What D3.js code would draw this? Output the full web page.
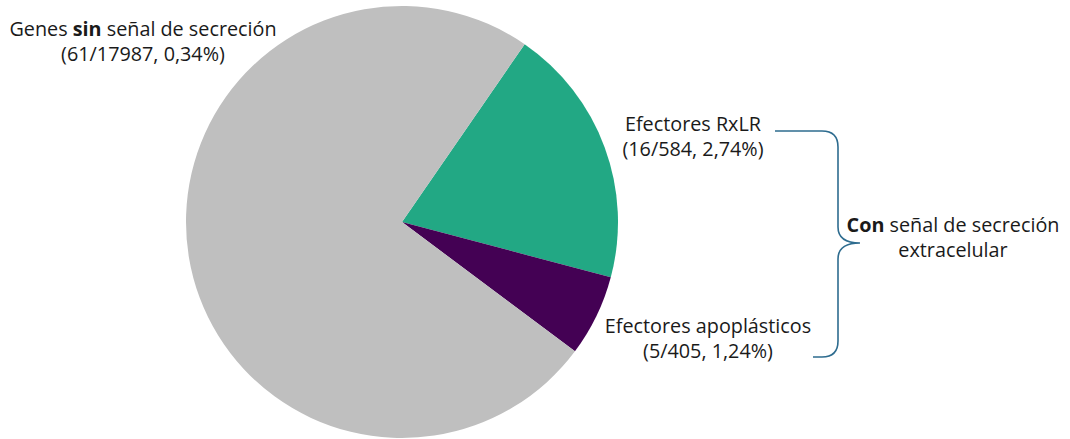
<!DOCTYPE html>
<html>
<head>
<meta charset="utf-8">
<script src="https://cdn.jsdelivr.net/npm/d3@7"></script>
<style>
  html, body { margin: 0; padding: 0; background: #fff; }
  svg { display: block; }
  text { font-family: "Open Sans", "Noto Sans", sans-serif; fill: #1a1a1a; }
</style>
</head>
<body>
<svg id="chart" width="1070" height="439"></svg>
<script>
// Genes con efectores por categoría de señal de secreción
const categories = ["Efectores RxLR", "Efectores apoplásticos", "Genes sin señal de secreción"];
const counts = [16, 5, 61];
const totals = [584, 405, 17987];
const percentLabels = ["2,74%", "1,24%", "0,34%"];
const colors = ["#22a884", "#440154", "#bfbfbf"];

const svg = d3.select("#chart");
const cx = 402, cy = 222, radius = 216;

const pie = d3.pie()
  .sort(null)
  .value(d => d)
  .startAngle(34.6 * Math.PI / 180)
  .endAngle(34.6 * Math.PI / 180 + 2 * Math.PI);

const arc = d3.arc().innerRadius(0).outerRadius(radius);

const g = svg.append("g").attr("transform", `translate(${cx},${cy})`);
g.selectAll("path")
  .data(pie(counts))
  .join("path")
  .attr("d", arc)
  .attr("fill", (d, i) => colors[i]);

// Slice labels
const fontSize = 19.8;
const labelPos = [
  { x: 693, y: 131 },
  { x: 708, y: 333 },
  { x: 143, y: 36 }
];

function addLabel(x, y, lines) {
  const t = svg.append("text")
    .attr("x", x).attr("y", y)
    .attr("text-anchor", "middle")
    .style("font-size", fontSize + "px");
  lines.forEach((parts, li) => {
    parts.forEach((p, pi) => {
      const ts = t.append("tspan").text(p.text);
      if (pi === 0) ts.attr("x", x).attr("dy", li === 0 ? 0 : 25);
      if (p.bold) ts.style("font-weight", "bold");
    });
  });
  return t;
}

categories.forEach((c, i) => {
  const detail = `(${counts[i]}/${totals[i]}, ${percentLabels[i]})`;
  let first;
  if (i === 2) {
    first = [{ text: "Genes " }, { text: "sin", bold: true }, { text: " señal de secreción" }];
  } else {
    first = [{ text: c }];
  }
  addLabel(labelPos[i].x, labelPos[i].y, [first, [{ text: detail }]]);
});

// Curly brace grouping the two effector classes
const braceTop = 131, braceBottom = 357, braceMid = 243, bx = 838, tipX = 860;
const cr = 16;
const brace = d3.path();
brace.moveTo(775, braceTop);
brace.lineTo(bx - cr, braceTop);
brace.quadraticCurveTo(bx, braceTop, bx, braceTop + cr);
brace.lineTo(bx, braceMid - cr);
brace.quadraticCurveTo(bx, braceMid, tipX, braceMid);
brace.quadraticCurveTo(bx, braceMid, bx, braceMid + cr);
brace.lineTo(bx, braceBottom - cr);
brace.quadraticCurveTo(bx, braceBottom, bx - cr, braceBottom);
brace.lineTo(813, braceBottom);
svg.append("path")
  .attr("d", brace.toString())
  .attr("fill", "none")
  .attr("stroke", "#2e6c8f")
  .attr("stroke-width", 1.6);

addLabel(953, 232, [
  [{ text: "Con", bold: true }, { text: " señal de secreción" }],
  [{ text: "extracelular" }]
]);
</script>
</body>
</html>
